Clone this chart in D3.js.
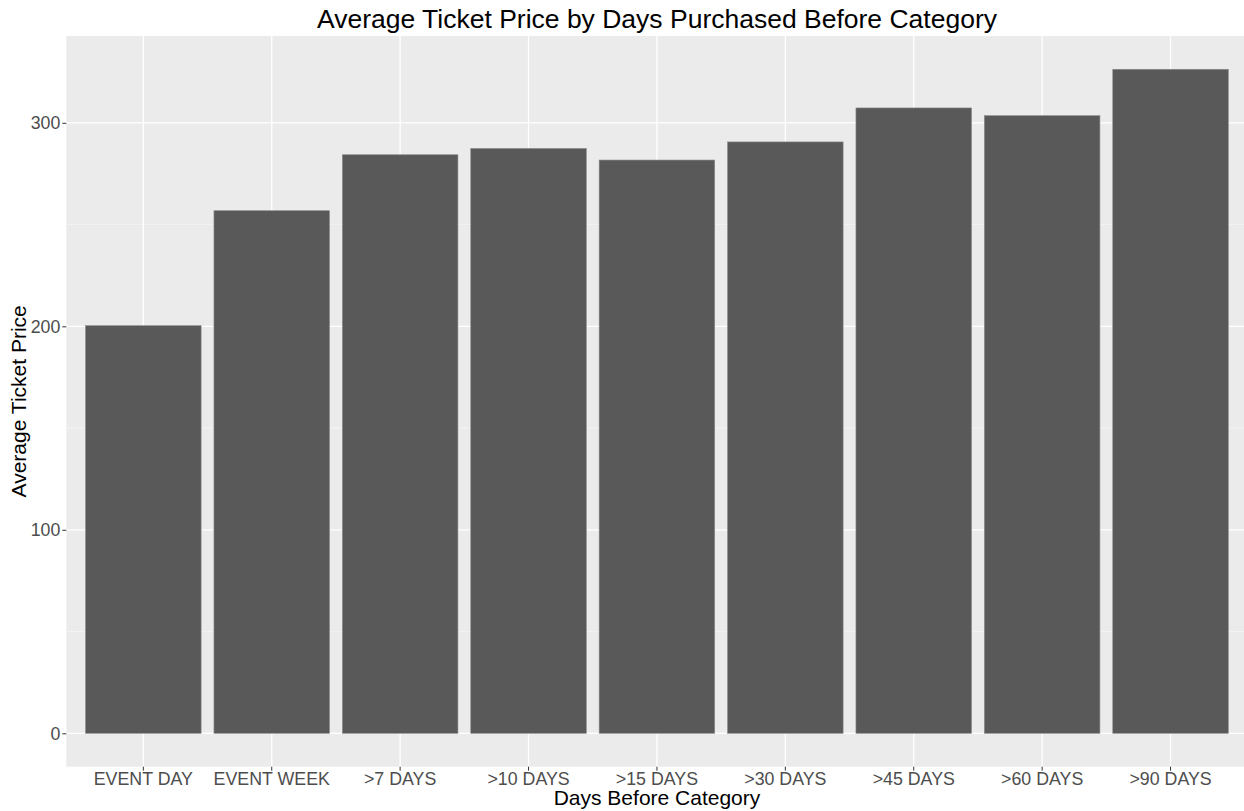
<!DOCTYPE html>
<html>
<head>
<meta charset="utf-8">
<script src="https://cdn.jsdelivr.net/npm/d3@7"></script>
<style>
  body { margin: 0; background: #fff; }
  svg { display: block; font-family: "Liberation Sans", Arial, sans-serif; }
</style>
</head>
<body>
<script>
// categories and average prices
var categories = ["EVENT DAY", "EVENT WEEK", ">7 DAYS", ">10 DAYS", ">15 DAYS",
                  ">30 DAYS", ">45 DAYS", ">60 DAYS", ">90 DAYS"];
var prices = [200.3, 256.8, 284.3, 287.4, 281.7, 290.6, 307.3, 303.5, 326.3];
var yTicks = [0, 100, 200, 300];
var yMinor = [50, 150, 250];

var data = categories.map(function(c, i) { return {name: c, value: prices[i]}; });

var W = 1244, H = 811;
// panel edges
var panelLeft = 66.3, panelTop = 36, panelBottom = 766.7;
var step = 128.4;
var panelRight = panelLeft + step * 9.2;

var svg = d3.select("body").append("svg")
    .attr("width", W)
    .attr("height", H);

var y = d3.scaleLinear()
    .domain([0, 326.3])
    .range([733.3, 733.3 - 326.3 * 2.035]);

var x = d3.scaleBand()
    .domain(categories)
    .range([panelLeft + 0.6 * step - step / 2, panelRight - 0.6 * step + step / 2])
    .paddingInner(0.1)
    .paddingOuter(0.05);

// grey panel
svg.append("rect")
    .attr("x", panelLeft).attr("y", panelTop)
    .attr("width", panelRight - panelLeft).attr("height", panelBottom - panelTop)
    .attr("fill", "#ebebeb");

// minor grid
svg.selectAll(".minor").data(yMinor).enter().append("line")
    .attr("x1", panelLeft).attr("x2", panelRight)
    .attr("y1", d => y(d)).attr("y2", d => y(d))
    .attr("stroke", "#f5f5f5").attr("stroke-width", 0.8);

// major grid
svg.selectAll(".major").data(yTicks).enter().append("line")
    .attr("x1", panelLeft).attr("x2", panelRight)
    .attr("y1", d => y(d)).attr("y2", d => y(d))
    .attr("stroke", "#fff").attr("stroke-width", 1.3);

svg.selectAll(".vgrid").data(categories).enter().append("line")
    .attr("x1", d => x(d) + x.bandwidth() / 2).attr("x2", d => x(d) + x.bandwidth() / 2)
    .attr("y1", panelTop).attr("y2", panelBottom)
    .attr("stroke", "#fff").attr("stroke-width", 1.3);

// bars
svg.selectAll(".bar").data(data).enter().append("rect")
    .attr("x", d => x(d.name))
    .attr("y", d => y(d.value))
    .attr("width", x.bandwidth())
    .attr("height", d => y(0) - y(d.value))
    .attr("fill", "#595959")
    .attr("stroke", "#8a8a8a")
    .attr("stroke-width", 0.6);

// y axis
var yAxis = svg.append("g")
    .attr("transform", "translate(" + panelLeft + ",0)")
    .call(d3.axisLeft(y).tickValues(yTicks).tickSize(4).tickPadding(2));
yAxis.select(".domain").remove();
yAxis.selectAll("line").attr("stroke", "#333");
yAxis.selectAll("text")
    .attr("fill", "#4d4d4d")
    .style("font-size", "17.8px");

// x axis
var xAxis = svg.append("g")
    .attr("transform", "translate(0," + panelBottom + ")")
    .call(d3.axisBottom(x).tickSize(4).tickPadding(2));
xAxis.select(".domain").remove();
xAxis.selectAll("line").attr("stroke", "#333");
xAxis.selectAll("text")
    .attr("fill", "#4d4d4d")
    .style("font-size", "17.8px");
svg.selectAll(".tick text").style("font-family", "Liberation Sans, Arial, sans-serif");

// titles
svg.append("text")
    .attr("x", 657).attr("y", 27.5)
    .attr("text-anchor", "middle")
    .style("font-size", "26.5px")
    .attr("fill", "#000")
    .text("Average Ticket Price by Days Purchased Before Category");

svg.append("text")
    .attr("x", 657).attr("y", 805)
    .attr("text-anchor", "middle")
    .style("font-size", "21px")
    .attr("fill", "#000")
    .text("Days Before Category");

svg.append("text")
    .attr("transform", "translate(26," + ((panelTop + panelBottom) / 2) + ") rotate(-90)")
    .attr("text-anchor", "middle")
    .style("font-size", "21px")
    .attr("fill", "#000")
    .text("Average Ticket Price");
</script>
</body>
</html>
